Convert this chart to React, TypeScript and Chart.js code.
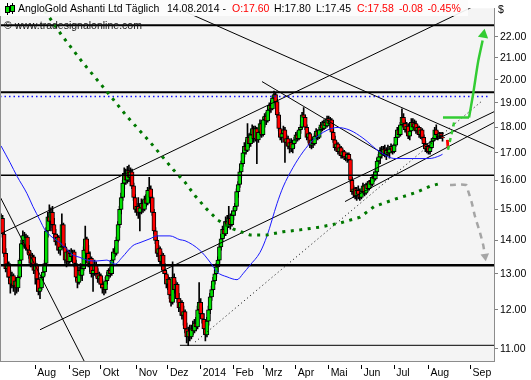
import React, { useEffect, useRef } from 'react';
import { Chart, registerables } from 'chart.js';

Chart.register(...registerables);

const FONT = '"Liberation Sans", Arial, sans-serif';

// Daily candles (index 0 = first trading day shown)
const openP = [
  14.40,14.70,14.20,13.60,13.15,13.30,12.90,12.70,12.95,12.65,
  12.80,12.60,12.90,13.40,13.90,14.00,13.85,14.10,13.70,13.55,
  13.30,13.50,13.10,13.25,12.85,12.50,12.60,12.90,13.05,13.30,
  14.30,14.75,14.60,14.90,14.50,14.20,13.95,14.10,13.70,13.80,
  14.50,13.80,13.40,13.65,13.35,13.60,13.50,13.65,13.30,12.90,
  12.75,13.10,12.95,13.15,13.70,14.05,13.60,13.30,13.45,13.00,
  13.10,13.25,13.00,12.85,12.95,12.70,12.60,12.55,12.80,12.95,
  13.10,13.00,13.40,13.65,13.60,14.00,14.50,15.00,15.40,15.90,
  16.25,16.00,16.35,16.10,16.30,15.80,15.40,15.00,15.10,14.90,
  15.05,15.20,15.00,15.35,15.20,15.65,15.70,15.40,14.90,14.30,
  14.00,13.60,13.75,13.35,13.55,13.10,13.00,12.70,12.85,12.40,
  12.20,12.90,12.55,12.70,12.30,12.05,12.20,11.85,11.95,11.50,
  11.30,11.45,11.30,11.50,11.45,11.65,11.55,12.00,12.20,11.90,
  11.75,11.50,11.35,11.70,12.00,12.35,12.55,12.80,13.00,13.20,
  13.40,13.80,14.05,14.35,14.20,14.60,14.45,14.70,14.50,14.80,
  14.95,15.10,15.60,15.85,16.30,16.60,17.00,17.25,17.10,17.60,
  17.35,17.70,17.95,17.55,17.95,17.50,17.80,18.15,17.70,18.30,
  18.45,18.25,18.70,18.90,18.75,19.20,19.35,19.05,18.50,17.95,
  17.60,17.75,17.90,17.40,17.55,17.25,17.40,17.15,17.35,17.50,
  17.70,17.55,17.90,18.00,18.50,18.40,18.00,17.60,17.75,17.30,
  17.50,17.35,17.65,17.85,17.60,17.90,18.10,17.95,18.20,18.05,
  18.35,18.15,18.30,17.80,17.50,17.20,17.35,17.05,17.20,16.90,
  17.05,16.85,16.80,16.95,16.75,16.00,15.60,15.70,15.45,15.65,
  15.50,15.40,15.60,15.80,15.55,15.85,15.70,15.95,15.85,16.10,
  16.05,16.30,16.70,16.85,17.10,16.95,17.15,16.95,17.10,17.00,
  17.15,17.25,17.05,17.30,17.60,17.90,17.70,18.10,18.40,18.15,
  17.90,18.05,17.65,17.85,18.20,18.00,18.15,17.85,18.00,17.70,
  17.90,17.60,17.35,17.15,17.25,17.05,17.20,17.45,17.55,17.90,
  17.70,17.65,17.75,17.60
];
const highP = [
  14.85,14.80,14.30,13.75,13.40,13.35,13.10,13.05,13.00,12.90,
  12.85,12.95,13.45,14.00,14.30,14.25,14.20,14.15,13.85,13.65,
  13.60,13.55,13.35,13.30,12.95,12.70,12.95,13.20,13.40,14.40,
  14.90,15.15,15.05,15.10,14.70,14.35,14.20,14.15,13.90,14.85,
  14.55,13.90,13.75,13.70,13.70,13.75,13.70,13.70,13.40,13.05,
  13.20,13.30,13.25,13.80,14.45,14.10,13.85,13.65,13.50,13.25,
  13.40,13.35,13.15,13.05,13.00,12.85,12.75,12.90,13.05,13.15,
  13.20,13.45,13.75,13.80,14.10,14.60,15.10,15.55,16.00,16.45,
  16.40,16.50,16.55,16.45,16.40,15.90,15.50,15.20,15.40,15.15,
  15.35,15.30,15.45,15.50,15.75,16.10,15.80,15.45,15.00,14.40,
  14.15,13.85,13.80,13.65,13.60,13.30,13.05,12.95,12.90,12.50,
  13.35,13.00,12.80,12.75,12.45,12.30,12.25,12.10,12.00,11.65,
  11.55,11.60,11.60,11.70,11.75,11.80,12.10,12.75,12.30,12.05,
  11.90,11.70,11.80,12.10,12.45,12.65,12.90,13.10,13.30,13.50,
  13.90,14.20,14.45,14.60,14.75,14.80,15.10,14.85,14.95,15.05,
  15.20,15.70,15.95,16.40,16.70,17.10,17.40,17.50,18.15,17.75,
  17.80,18.10,18.05,18.05,18.00,17.90,18.30,18.25,18.40,18.55,
  18.60,18.80,19.00,19.10,19.30,19.50,19.45,19.15,18.60,18.20,
  17.90,18.05,18.00,17.70,17.65,17.50,17.55,17.45,17.60,17.80,
  17.85,18.00,18.10,18.60,18.80,18.50,18.10,17.85,17.80,17.60,
  17.60,17.75,17.95,17.90,18.00,18.20,18.25,18.30,18.30,18.45,
  18.45,18.40,18.35,17.95,17.65,17.45,17.40,17.30,17.25,17.15,
  17.10,17.00,17.00,17.00,16.80,16.10,15.80,15.75,15.75,15.80,
  15.70,15.70,15.90,15.85,15.90,15.95,16.00,16.10,16.20,16.30,
  16.40,16.80,16.95,17.20,17.25,17.25,17.30,17.20,17.30,17.25,
  17.35,17.30,17.35,17.70,18.00,18.05,18.20,18.75,18.55,18.30,
  18.20,18.15,17.95,18.35,18.35,18.30,18.25,18.10,18.05,18.00,
  17.95,17.70,17.45,17.35,17.30,17.30,17.55,17.60,18.00,18.10,
  17.85,17.80,17.80,17.80
];
const lowP = [
  14.30,14.10,13.50,13.05,12.90,12.80,12.45,12.60,12.50,12.40,
  12.45,12.50,12.85,13.30,13.80,13.75,13.70,13.60,13.45,13.20,
  13.20,13.00,12.70,12.50,12.40,12.30,12.55,12.80,12.95,13.25,
  14.10,14.50,14.30,14.40,14.05,13.85,13.70,13.60,13.55,13.75,
  13.70,13.30,13.20,13.25,13.30,13.40,13.35,13.20,12.80,12.60,
  12.70,12.85,12.80,13.10,13.60,13.50,13.20,13.05,12.90,12.50,
  12.95,12.90,12.75,12.70,12.60,12.45,12.40,12.45,12.70,12.85,
  12.90,12.95,13.30,13.50,13.55,13.95,14.40,14.85,15.30,15.70,
  15.85,15.90,15.95,15.80,15.70,15.30,14.90,14.80,14.70,14.30,
  14.85,14.90,14.95,15.10,15.15,15.50,15.30,14.80,14.20,13.90,
  13.50,13.40,13.25,13.20,13.00,12.90,12.60,12.55,12.30,12.10,
  12.15,12.45,12.35,12.20,11.95,11.85,11.75,11.60,11.40,11.15,
  11.08,11.20,11.25,11.35,11.40,11.45,11.50,11.95,11.80,11.65,
  11.40,11.20,11.30,11.60,11.90,12.25,12.45,12.70,12.90,13.05,
  13.30,13.70,13.95,14.10,14.15,14.30,14.40,14.35,14.45,14.65,
  14.80,15.00,15.40,15.75,16.10,16.50,16.85,16.95,17.05,17.20,
  17.25,17.55,17.40,17.45,16.60,17.40,17.65,17.60,17.65,18.00,
  18.10,18.20,18.55,18.60,18.70,19.00,18.90,18.40,17.85,17.50,
  17.40,17.60,16.65,17.30,17.15,17.00,17.05,17.00,17.20,17.40,
  17.45,17.50,17.75,17.95,18.30,17.90,17.50,17.40,17.20,17.15,
  17.20,17.30,17.55,17.50,17.55,17.80,17.85,17.90,17.95,18.00,
  18.05,17.90,17.70,17.40,17.10,17.05,16.95,16.90,16.80,16.80,
  16.75,16.70,16.65,16.70,15.90,15.50,15.40,15.35,15.30,15.35,
  15.30,15.35,15.50,15.45,15.50,15.60,15.65,15.75,15.80,15.95,
  16.00,16.20,16.55,16.60,16.80,16.90,16.85,16.75,16.90,16.80,
  17.00,16.95,17.00,17.25,17.50,17.60,17.65,18.00,18.05,17.80,
  17.75,17.55,17.50,17.80,17.90,17.85,17.75,17.70,17.60,17.55,
  17.50,17.25,17.05,17.00,16.95,16.95,17.15,17.30,17.50,17.60,
  17.50,17.55,17.55,17.45
];
const closeP = [
  14.75,14.20,13.60,13.15,13.30,12.90,12.70,12.95,12.65,12.80,
  12.60,12.90,13.40,13.90,14.15,13.85,14.10,13.70,13.55,13.30,
  13.50,13.10,13.25,12.85,12.50,12.60,12.90,13.05,13.30,14.30,
  14.75,14.60,14.90,14.50,14.20,13.95,14.10,13.70,13.80,14.50,
  13.80,13.40,13.65,13.35,13.60,13.50,13.65,13.30,12.90,12.75,
  13.10,12.95,13.15,13.70,14.05,13.60,13.30,13.45,13.00,13.10,
  13.25,13.00,12.85,12.95,12.70,12.60,12.55,12.80,12.95,13.10,
  13.00,13.40,13.65,13.60,14.00,14.50,15.00,15.40,15.90,16.25,
  16.00,16.35,16.10,16.30,15.80,15.40,15.00,15.10,14.90,15.05,
  15.20,15.00,15.35,15.20,15.65,15.70,15.40,14.90,14.30,14.00,
  13.60,13.75,13.35,13.55,13.10,13.00,12.70,12.85,12.40,12.20,
  12.90,12.55,12.70,12.30,12.05,12.20,11.85,11.95,11.50,11.30,
  11.45,11.30,11.50,11.45,11.65,11.55,12.00,12.20,11.90,11.75,
  11.50,11.35,11.70,12.00,12.35,12.55,12.80,13.00,13.20,13.40,
  13.80,14.05,14.35,14.20,14.60,14.45,14.70,14.50,14.80,14.95,
  15.10,15.60,15.85,16.30,16.60,17.00,17.25,17.10,17.60,17.35,
  17.70,17.95,17.55,17.95,17.50,17.80,18.15,17.70,18.30,18.45,
  18.25,18.70,18.90,18.75,19.20,19.35,19.05,18.50,17.95,17.60,
  17.75,17.90,17.40,17.55,17.25,17.40,17.15,17.35,17.50,17.70,
  17.55,17.90,18.00,18.50,18.40,18.00,17.60,17.75,17.30,17.50,
  17.35,17.65,17.85,17.60,17.90,18.10,17.95,18.20,18.05,18.35,
  18.15,18.30,17.80,17.50,17.20,17.35,17.05,17.20,16.90,17.05,
  16.85,16.80,16.95,16.75,16.00,15.60,15.70,15.45,15.65,15.50,
  15.40,15.60,15.80,15.55,15.85,15.70,15.95,15.85,16.10,16.05,
  16.30,16.70,16.85,17.10,16.95,17.15,16.95,17.10,17.00,17.15,
  17.25,17.05,17.30,17.60,17.90,17.70,18.10,18.40,18.15,17.90,
  18.05,17.65,17.85,18.20,18.00,18.15,17.85,18.00,17.70,17.90,
  17.60,17.35,17.15,17.25,17.05,17.20,17.45,17.55,17.90,17.70,
  17.65,17.75,17.66,17.58
];

// Axis ticks
const xTickIdx = [22, 44, 64, 87, 107, 128, 149, 168, 189, 210, 231, 252, 274, 301];
const xTickLabels = ['Aug', 'Sep', 'Okt', 'Nov', 'Dez', '2014', 'Feb', 'Mrz', 'Apr', 'Mai', 'Jun', 'Jul', 'Aug', 'Sep'];
const yTickValues = [11, 12, 13, 14, 15, 16, 17, 18, 19, 20, 21, 22];
const X_MIN = -0.64;
const X_MAX = 316;
const Y_MIN = 10.71;
const Y_MAX = 23.44;

// Indicators: [index, price]
const blueAvg = [
  [0, 17.27], [5.8, 16.64], [10.3, 16.14], [16.7, 15.53], [20.5, 15.09], [25, 14.64], [28.2, 14.33],
  [33.3, 14.08], [37.8, 13.93], [42.3, 13.72], [45.5, 13.57], [50.6, 13.48], [55.1, 13.40], [60.3, 13.37],
  [67.9, 13.40], [73.1, 13.28], [77.6, 13.48], [84.6, 13.84], [89.1, 13.93], [95.5, 14.05], [100, 14.14],
  [108.3, 14.14], [114.7, 14.02], [117.9, 13.99], [127.6, 13.69], [134, 13.34], [138.5, 13.05], [144.9, 12.91],
  [151.3, 12.83], [155.1, 13.00], [159.6, 13.25], [166, 13.63], [170.5, 14.14], [176.9, 15.19], [180.8, 15.76],
  [187.2, 16.46], [193.6, 17.04], [200, 17.49], [209, 17.88], [215.4, 17.99], [223.7, 17.88], [232, 17.57],
  [242.9, 17.04], [252.6, 16.79], [263.5, 16.79], [274.4, 16.79], [281.4, 16.90], [283, 16.95]
];
const greenAvg = [
  [25, 23.67], [39.1, 22.06], [52.6, 20.76], [66.7, 19.58], [80.8, 18.43], [95.5, 17.42], [110.3, 16.39],
  [117.9, 15.93], [124.4, 15.46], [131.4, 15.03], [139.1, 14.64], [148.7, 14.36], [159.6, 14.17], [170.5, 14.17],
  [180.8, 14.27], [191.7, 14.33], [204.5, 14.42], [217.3, 14.55], [230.1, 14.74], [239.1, 15.09], [251.3, 15.32],
  [265.4, 15.56], [275.6, 15.80], [282.7, 15.90]
];

// Horizontal levels
const levelTop = 22.57;
const levelRes = 19.45;
const levelDotted = 19.27;
const levelMid = 16.18;
const levelSup = 13.25;
const levelLow = 11.09;

// Trend lines: [index, price]
const channelTop = [[-0.64, 14.20], [316, 24.06]];
const channelLow = [[25, 11.48], [316, 18.63]];
const steepDown = [[-0.64, 15.43], [54.5, 10.62]];
const fallLong = [[109.6, 23.57], [316, 17.17]];
const fallMarch = [[167.3, 19.92], [246.2, 16.93]];
const riseJune = [[220.5, 15.26], [316, 18.19]];
const dottedRise = [[124.4, 11.17], [308.3, 19.08]];

// Projections
const projGreenDash = [[286.5, 17.12], [291, 18.35]];
const projGreenFlat = [[283.3, 18.39], [300, 18.39]];
const projGreenUp = [[300, 18.39], [302.6, 19.37], [305.8, 20.81], [308.7, 21.82]];
const projGreenHead = [[309.3, 22.11]];
const projRed = [[286.0, 17.50], [286.4, 17.20]];
const projGray = [[287.8, 15.83], [298.1, 15.83], [299.4, 15.63], [301.9, 15.19], [303.8, 14.77], [307.1, 14.23], [309, 13.87], [309.6, 13.72]];
const projGrayHead = [[310.3, 13.51]];

const headerTokens: [string, number, string][] = [
  ['AngloGold Ashanti Ltd Täglich', 18, '#000'],
  ['14.08.2014 -', 167, '#000'],
  ['O:17.60', 232, '#ff0000'],
  ['H:17.80', 274, '#000'],
  ['L:17.45', 316, '#000'],
  ['C:17.58', 357, '#ff0000'],
  ['-0.08', 399, '#ff0000'],
  ['-0.45%', 427.5, '#ff0000'],
];

const line = (pts: number[][], color: string, width: number, extra: any = {}) => ({
  type: 'line',
  data: pts.map(([x, y]) => ({ x, y })),
  borderColor: color,
  backgroundColor: color,
  borderWidth: width,
  pointRadius: 0,
  pointHoverRadius: 0,
  fill: false,
  tension: 0,
  order: 5,
  ...extra,
});

const hLine = (v: number, color: string, width: number, from = X_MIN, to = X_MAX, extra: any = {}) =>
  line([[from, v], [to, v]], color, width, extra);

const head = (pts: number[][], color: string, rot: number, r: number) => ({
  type: 'line',
  data: pts.map(([x, y]) => ({ x, y })),
  showLine: false,
  pointStyle: 'triangle',
  pointRadius: r,
  pointRotation: rot,
  pointBackgroundColor: color,
  pointBorderColor: color,
  pointBorderWidth: 0,
  order: 1,
});

const bgPlugin = {
  id: 'bgPlugin',
  beforeDraw(chart: any) {
    const { ctx, chartArea: a } = chart;
    ctx.save();
    ctx.fillStyle = '#ffffff';
    ctx.fillRect(0, 0, chart.width, chart.height);
    ctx.fillStyle = '#f4f4f4';
    ctx.fillRect(a.left, a.top, a.right - a.left, a.bottom - a.top);
    ctx.restore();
  },
  afterDraw(chart: any) {
    const { ctx, chartArea: a } = chart;
    ctx.save();
    ctx.strokeStyle = '#8c8c8c';
    ctx.lineWidth = 1;
    ctx.beginPath();
    ctx.moveTo(a.left + 0.5, a.top);
    ctx.lineTo(a.left + 0.5, a.bottom);
    ctx.stroke();
    // header band
    ctx.fillStyle = 'rgba(252,252,252,0.92)';
    ctx.fillRect(0, 0, 468, 16);
    // icon
    const drawIcon = (cx: number, top: number, bt: number, bb: number, bottom: number) => {
      ctx.strokeStyle = '#000';
      ctx.beginPath();
      ctx.moveTo(cx + 0.5, top);
      ctx.lineTo(cx + 0.5, bottom);
      ctx.stroke();
      ctx.fillStyle = '#00e000';
      ctx.fillRect(cx - 1.5, bt, 4, bb - bt);
      ctx.strokeRect(cx - 1.5, bt + 0.5, 4, bb - bt);
    };
    drawIcon(7, 3, 6, 12, 15);
    drawIcon(12, 3, 5, 11, 14);
    ctx.font = `10.5px ${FONT}`;
    ctx.textBaseline = 'middle';
    ctx.textAlign = 'left';
    for (const [t, x, c] of headerTokens) {
      ctx.fillStyle = c;
      ctx.fillText(t, x, 9.5);
    }
    ctx.fillStyle = '#111';
    ctx.fillText('© www.tradesignalonline.com', 4, 26.5);
    ctx.fillStyle = '#000';
    ctx.fillText('$', 498, 10);
    ctx.restore();
  },
};

export default function App() {
  const ref = useRef<HTMLCanvasElement>(null);

  useEffect(() => {
    const idx = closeP.map((_, i) => i);
    const wickData = idx.map((i) => ({ x: i, y: [lowP[i], highP[i]] }));
    const bodyData = idx.map((i) => ({ x: i, y: [openP[i], closeP[i]] }));
    const bodyColors = idx.map((i) => (closeP[i] >= openP[i] ? '#00e000' : '#ff0000'));

    const datasets: any[] = [
      {
        type: 'bar',
        data: wickData,
        backgroundColor: '#000',
        borderWidth: 0,
        barThickness: 1,
        grouped: false,
        order: 20,
      },
      {
        type: 'bar',
        data: bodyData,
        backgroundColor: bodyColors,
        borderColor: '#000',
        borderWidth: 1,
        borderSkipped: false,
        barThickness: 4,
        grouped: false,
        order: 19,
      },
      hLine(levelTop, '#000', 2),
      hLine(levelRes, '#000', 2),
      hLine(levelDotted, '#1010ff', 1.5, X_MIN, 312, { borderDash: [1.5, 3] }),
      hLine(levelMid, '#000', 1.5),
      hLine(levelSup, '#000', 2.5),
      hLine(levelLow, '#000', 1, 114.7, X_MAX),
      line(channelTop, '#000', 1),
      line(channelLow, '#000', 1),
      line(steepDown, '#000', 1),
      line(fallLong, '#000', 1),
      line(fallMarch, '#000', 1),
      line(riseJune, '#000', 1),
      line(dottedRise, '#000', 1, { borderDash: [1, 3] }),
      line(blueAvg, '#1a1aff', 1, { tension: 0.4, cubicInterpolationMode: 'monotone', order: 4 }),
      line(greenAvg, '#007800', 3, { borderDash: [3, 5.5], order: 3 }),
      line(projGreenDash, '#33cc33', 2.5, { borderDash: [4, 4], order: 2 }),
      line(projGreenFlat, '#33cc33', 2.5, { order: 2 }),
      line(projGreenUp, '#33cc33', 2.5, { tension: 0.2, order: 2 }),
      head(projGreenHead, '#33cc33', 10, 6),
      line(projRed, '#ff0000', 2.5, { order: 2 }),
      line(projGray, '#a5a5a5', 2.5, { borderDash: [6, 5], tension: 0.3, order: 2 }),
      head(projGrayHead, '#a5a5a5', 172, 5),
    ];

    const chart = new Chart(ref.current as HTMLCanvasElement, {
      type: 'bar',
      data: { datasets },
      options: {
        animation: false,
        responsive: false,
        devicePixelRatio: 1,
        layout: { padding: 0, autoPadding: false },
        events: [],
        plugins: {
          legend: { display: false },
          tooltip: { enabled: false },
          title: { display: false },
        },
        scales: {
          x: {
            type: 'linear',
            position: 'bottom',
            min: X_MIN,
            max: X_MAX,
            offset: false,
            bounds: 'data',
            afterBuildTicks: (s: any) => {
              s.ticks = xTickIdx.map((v) => ({ value: v }));
            },
            afterFit: (s: any) => {
              s.height = 19;
            },
            ticks: {
              autoSkip: false,
              maxRotation: 0,
              minRotation: 0,
              align: 'start',
              labelOffset: 2,
              padding: -2,
              color: '#000',
              font: { family: FONT, size: 10.5 },
              callback: (v: any) => {
                const k = xTickIdx.indexOf(Number(v));
                return k >= 0 ? xTickLabels[k] : '';
              },
            },
            grid: {
              offset: false,
              drawOnChartArea: false,
              drawTicks: true,
              tickLength: 8,
              tickColor: '#000',
              tickBorderDash: [0, 3, 5, 20],
            },
            border: { display: true, color: '#8c8c8c', width: 1 },
          },
          y: {
            type: 'logarithmic',
            position: 'right',
            min: Y_MIN,
            max: Y_MAX,
            beginAtZero: false,
            bounds: 'data',
            afterBuildTicks: (s: any) => {
              s.ticks = yTickValues.map((v) => ({ value: v }));
            },
            afterFit: (s: any) => {
              s.width = 37;
            },
            ticks: {
              autoSkip: false,
              padding: 2,
              color: '#000',
              font: { family: FONT, size: 10.5 },
              callback: (v: any) => Number(v).toFixed(2),
            },
            grid: {
              drawOnChartArea: false,
              drawTicks: true,
              tickLength: 4,
              tickColor: '#808080',
            },
            border: { display: true, color: '#8c8c8c', width: 1 },
          },
        },
      } as any,
      plugins: [bgPlugin],
    } as any);

    return () => chart.destroy();
  }, []);

  return (
    <div style={{ position: 'absolute', left: 0, top: 0, width: 531, height: 380, background: '#fff' }}>
      <canvas ref={ref} width={531} height={380} style={{ display: 'block', width: 531, height: 380 }} />
    </div>
  );
}
